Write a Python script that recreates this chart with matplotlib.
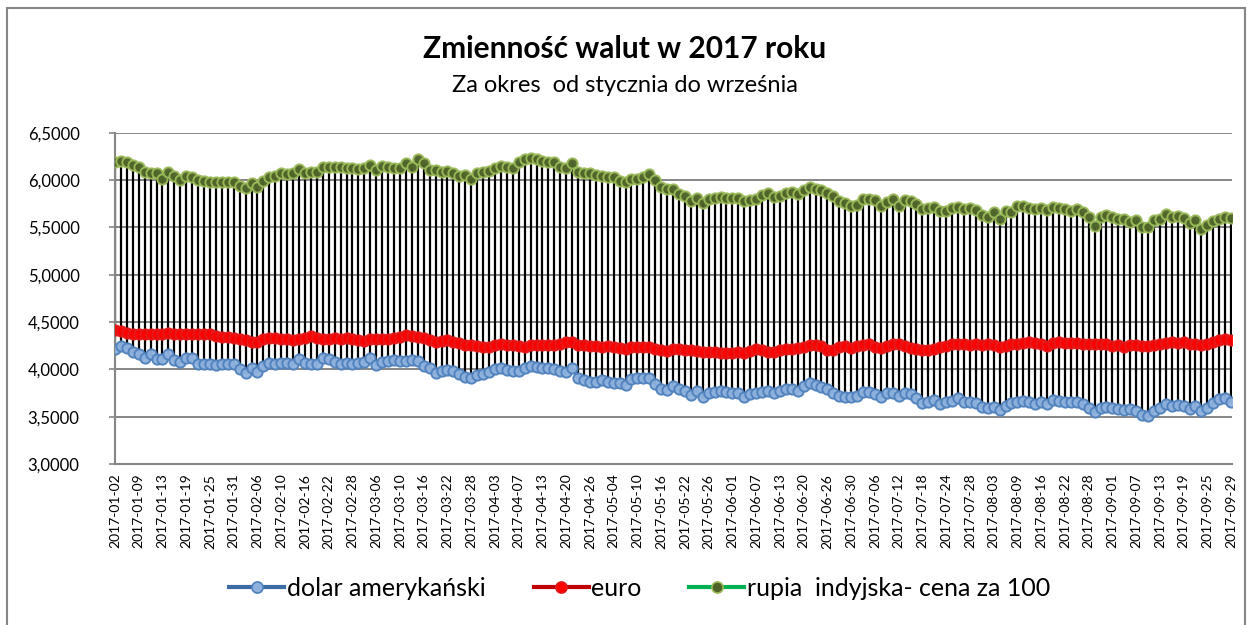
import matplotlib
matplotlib.use("Agg")
import matplotlib.pyplot as plt
from matplotlib.lines import Line2D
from matplotlib.patches import Rectangle
from matplotlib.ticker import FuncFormatter
import numpy as np
import pandas as pd

plt.rcParams['font.family'] = ['Lato', 'DejaVu Sans']

title = "Zmienność walut w 2017 roku"
subtitle = "Za okres  od stycznia do września"
series_names = ["dolar amerykański", "euro", "rupia  indyjska- cena za 100"]

# Polish (NBP) business days, Jan–Sep 2017
holidays = ["2017-01-06", "2017-04-17", "2017-05-01", "2017-05-03",
            "2017-06-15", "2017-08-15"]
dates = pd.bdate_range("2017-01-02", "2017-09-29", freq="C", holidays=holidays)
date_labels = [d.strftime("%Y-%m-%d") for d in dates]

usd = [4.210, 4.245, 4.230, 4.185, 4.160, 4.120, 4.165, 4.105, 4.105, 4.160,
       4.095, 4.080, 4.115, 4.115, 4.060, 4.060, 4.060, 4.050, 4.060, 4.060,
       4.060, 4.000, 3.965, 4.010, 3.975, 4.035, 4.070, 4.060, 4.070, 4.070,
       4.060, 4.105, 4.070, 4.060, 4.060, 4.115, 4.105, 4.080, 4.060, 4.070,
       4.060, 4.070, 4.080, 4.120, 4.050, 4.080, 4.088, 4.095, 4.088, 4.088,
       4.095, 4.088, 4.035, 4.010, 3.965, 3.983, 3.990, 3.983, 3.955, 3.920,
       3.905, 3.940, 3.948, 3.975, 4.000, 4.010, 3.990, 3.983, 3.983, 4.018,
       4.035, 4.025, 4.018, 4.018, 4.000, 3.983, 3.975, 4.018, 3.913, 3.885,
       3.870, 3.870, 3.885, 3.870, 3.860, 3.860, 3.835, 3.895, 3.905, 3.905,
       3.913, 3.843, 3.795, 3.780, 3.825, 3.790, 3.773, 3.730, 3.773, 3.710,
       3.755, 3.765, 3.773, 3.765, 3.755, 3.755, 3.710, 3.738, 3.755, 3.765,
       3.773, 3.755, 3.773, 3.790, 3.790, 3.773, 3.825, 3.860, 3.835, 3.815,
       3.790, 3.755, 3.720, 3.710, 3.710, 3.720, 3.765, 3.765, 3.738, 3.710,
       3.755, 3.755, 3.720, 3.755, 3.738, 3.695, 3.640, 3.660, 3.675, 3.630,
       3.655, 3.668, 3.695, 3.650, 3.660, 3.640, 3.605, 3.590, 3.605, 3.570,
       3.615, 3.640, 3.660, 3.668, 3.660, 3.633, 3.660, 3.633, 3.675, 3.668,
       3.660, 3.650, 3.660, 3.633, 3.590, 3.545, 3.590, 3.598, 3.590, 3.580,
       3.570, 3.580, 3.563, 3.520, 3.510, 3.563, 3.590, 3.633, 3.615, 3.626,
       3.615, 3.580, 3.615, 3.563, 3.590, 3.640, 3.685, 3.695, 3.660]

eur = [4.415, 4.400, 4.385, 4.375, 4.370, 4.370, 4.375, 4.370, 4.370, 4.380,
       4.375, 4.370, 4.375, 4.370, 4.375, 4.370, 4.370, 4.350, 4.340, 4.340,
       4.335, 4.320, 4.310, 4.290, 4.290, 4.320, 4.335, 4.335, 4.320, 4.320,
       4.310, 4.320, 4.335, 4.350, 4.335, 4.320, 4.320, 4.330, 4.320, 4.330,
       4.320, 4.310, 4.300, 4.320, 4.320, 4.325, 4.325, 4.330, 4.340, 4.360,
       4.350, 4.340, 4.335, 4.315, 4.290, 4.300, 4.305, 4.290, 4.280, 4.260,
       4.255, 4.245, 4.235, 4.235, 4.255, 4.270, 4.260, 4.255, 4.245, 4.235,
       4.255, 4.255, 4.255, 4.255, 4.255, 4.270, 4.290, 4.290, 4.255, 4.255,
       4.245, 4.245, 4.235, 4.245, 4.235, 4.230, 4.215, 4.235, 4.235, 4.235,
       4.235, 4.220, 4.200, 4.195, 4.220, 4.210, 4.200, 4.200, 4.193, 4.185,
       4.185, 4.185, 4.175, 4.175, 4.175, 4.185, 4.175, 4.193, 4.210, 4.200,
       4.185, 4.185, 4.200, 4.210, 4.220, 4.228, 4.235, 4.255, 4.255, 4.245,
       4.200, 4.200, 4.235, 4.245, 4.228, 4.245, 4.255, 4.263, 4.235, 4.228,
       4.245, 4.263, 4.263, 4.245, 4.228, 4.210, 4.200, 4.200, 4.210, 4.240,
       4.245, 4.263, 4.270, 4.270, 4.255, 4.263, 4.255, 4.263, 4.255, 4.235,
       4.245, 4.263, 4.270, 4.280, 4.290, 4.280, 4.263, 4.245, 4.280, 4.290,
       4.280, 4.280, 4.280, 4.270, 4.263, 4.263, 4.270, 4.263, 4.245, 4.255,
       4.235, 4.255, 4.255, 4.245, 4.245, 4.255, 4.270, 4.280, 4.290, 4.280,
       4.290, 4.270, 4.270, 4.255, 4.270, 4.290, 4.315, 4.325, 4.315]

inr = [6.187, 6.197, 6.187, 6.162, 6.141, 6.088, 6.077, 6.070, 6.010, 6.088,
       6.046, 6.000, 6.046, 6.035, 6.000, 5.990, 5.975, 5.975, 5.982, 5.975,
       5.982, 5.940, 5.912, 5.965, 5.930, 5.993, 6.028, 6.042, 6.077, 6.060,
       6.077, 6.116, 6.077, 6.088, 6.088, 6.134, 6.134, 6.134, 6.134, 6.123,
       6.123, 6.116, 6.123, 6.158, 6.105, 6.145, 6.141, 6.130, 6.123, 6.183,
       6.141, 6.218, 6.183, 6.105, 6.105, 6.081, 6.095, 6.070, 6.046, 6.053,
       6.010, 6.070, 6.088, 6.095, 6.130, 6.148, 6.141, 6.123, 6.194, 6.218,
       6.236, 6.218, 6.200, 6.194, 6.194, 6.141, 6.123, 6.183, 6.088, 6.070,
       6.070, 6.053, 6.046, 6.035, 6.035, 5.990, 5.975, 6.007, 6.010, 6.035,
       6.063, 6.000, 5.930, 5.905, 5.905, 5.852, 5.831, 5.778, 5.806, 5.760,
       5.800, 5.813, 5.824, 5.813, 5.806, 5.806, 5.778, 5.789, 5.800, 5.842,
       5.859, 5.817, 5.831, 5.859, 5.877, 5.852, 5.894, 5.923, 5.905, 5.894,
       5.866, 5.831, 5.778, 5.760, 5.725, 5.736, 5.800, 5.800, 5.789, 5.725,
       5.771, 5.800, 5.725, 5.789, 5.778, 5.746, 5.694, 5.700, 5.711, 5.670,
       5.676, 5.700, 5.718, 5.690, 5.700, 5.683, 5.630, 5.613, 5.665, 5.588,
       5.676, 5.665, 5.725, 5.729, 5.700, 5.690, 5.700, 5.683, 5.711, 5.700,
       5.690, 5.676, 5.694, 5.658, 5.606, 5.514, 5.606, 5.630, 5.606, 5.588,
       5.588, 5.560, 5.577, 5.507, 5.507, 5.577, 5.588, 5.641, 5.613, 5.620,
       5.595, 5.542, 5.577, 5.479, 5.525, 5.570, 5.588, 5.606, 5.595]

W, H = 1250, 625
fig = plt.figure(figsize=(W / 100, H / 100), dpi=100)
fig.patch.set_facecolor("white")

ax_left, ax_right, ax_top, ax_bottom = 115, 1232, 132.7, 464
ax = fig.add_axes([ax_left / W, (H - ax_bottom) / H,
                   (ax_right - ax_left) / W, (ax_bottom - ax_top) / H])

x = np.arange(len(dates))
all_vals = np.vstack([usd, eur, inr])
lo = all_vals.min(axis=0)
hi = all_vals.max(axis=0)

grid_c = "#868686"
ax.vlines(x, lo, hi, colors="black", lw=1.6, zorder=2)

styles = [
    dict(color="#4A7EBB", mfc="#8EB1DD", mec="#4F81BD"),
    dict(color="#C00000", mfc="#FF0000", mec="#E31A1A"),
    dict(color="#00B050", mfc="#4F6228", mec="#9BBB59"),
]
for vals, st in zip([usd, eur, inr], styles):
    ax.plot(x, vals, color=st["color"], lw=2.0, zorder=3)
    ax.plot(x, vals, ls="none", marker="o", ms=7.4, mfc=st["mfc"],
            mec=st["mec"], mew=1.4, zorder=4, alpha=0.95)

ax.set_xlim(0, len(dates) - 1 + 0.15)
ax.set_ylim(3.0, 6.5)
ax.set_yticks(np.arange(3.0, 6.51, 0.5))
ax.yaxis.set_major_formatter(FuncFormatter(lambda v, p: f"{v:.4f}".replace(".", ",")))
ax.yaxis.grid(True, color=grid_c, lw=1.4, zorder=0)
ax.set_axisbelow(True)

tick_idx = x[::4]
ax.set_xticks(tick_idx)
ax.set_xticklabels([date_labels[i] for i in tick_idx], rotation=90,
                   fontsize=10, va="top", ha="center")
ax.tick_params(axis="x", length=0, pad=7)
ax.tick_params(axis="y", length=4.5, width=1.2, color=grid_c, pad=21, labelsize=12)

for s in ["top", "right"]:
    ax.spines[s].set_visible(False)
for s in ["left", "bottom"]:
    ax.spines[s].set_color(grid_c)
    ax.spines[s].set_linewidth(1.5)

fig.text(0.5, (H - 49) / H, title, ha="center", va="center",
         fontsize=21.5, fontweight="bold")
fig.text(0.5, (H - 86) / H, subtitle, ha="center", va="center", fontsize=17)

leg_handles = [
    Line2D([], [], color="#3C6AA5", lw=3, marker="o", ms=8, mfc="#8EB1DD", mec="#4F81BD", mew=1.2),
    Line2D([], [], color="#C00000", lw=3, marker="o", ms=8, mfc="#FF0000", mec="#E31A1A", mew=1.2),
    Line2D([], [], color="#00B050", lw=3, marker="o", ms=8, mfc="#4F6228", mec="#9BBB59", mew=1.2),
]
fig.legend(leg_handles, series_names, loc="center", ncol=3,
           bbox_to_anchor=(0.512, (H - 588) / H), frameon=False, fontsize=18,
           handlelength=2.2, handletextpad=0.12, columnspacing=1.9)

fig.add_artist(Rectangle((7 / W, -0.1), (1245 - 7) / W, (H - 8) / H + 0.1,
                         transform=fig.transFigure, fill=False, ec=grid_c,
                         lw=1.5, clip_on=False))

fig.savefig("out.png", dpi=100)
